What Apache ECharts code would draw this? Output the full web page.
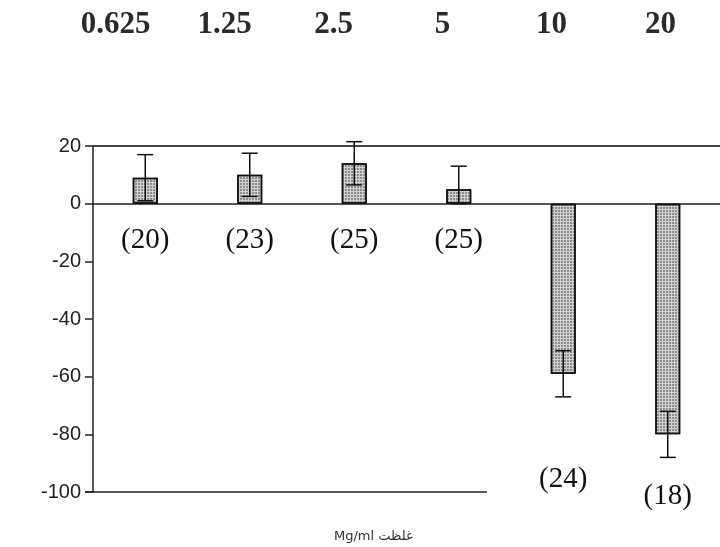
<!DOCTYPE html>
<html>
<head>
<meta charset="utf-8">
<script src="https://cdn.jsdelivr.net/npm/echarts@6/dist/echarts.min.js"></script>
<style>html,body{margin:0;padding:0;background:#fff}#c{width:720px;height:547px}</style>
</head>
<body>
<div id="c"></div>
<script>
const categories = ['0.625', '1.25', '2.5', '5', '10', '20'];
const means = [9, 10, 14, 5, -59, -80];
const sds = [8, 7.5, 7.5, 8, 8, 8];
const nLabels = ['(20)', '(23)', '(25)', '(25)', '(24)', '(18)'];
const axisTitle = 'Mg/ml غلظت';

// layout constants (pixel offsets of the n labels below their anchor)
const nLabelOffset = [37, 37, 37, 37, 83, 39];

const chart = echarts.init(document.getElementById('c'));
const option = {
  animation: false,
  backgroundColor: '#fff',
  title: {
    text: axisTitle,
    left: 329, top: 525,
    textStyle: { fontFamily: 'DejaVu Sans', fontSize: 13, fontWeight: 'normal', color: '#333' }
  },
  grid: [
    { left: 93, right: -10, top: 146, bottom: 55 },
    { left: 61, right: 5, top: 146, bottom: 55 }
  ],
  xAxis: [{
    type: 'category',
    gridIndex: 0,
    data: categories,
    axisLine: { onZero: true, lineStyle: { color: '#222', width: 1.5 } },
    axisTick: { show: false },
    axisLabel: { show: false },
    splitLine: { show: false }
  }, {
    type: 'category',
    gridIndex: 1,
    data: categories,
    position: 'top',
    offset: 98,
    axisLine: { show: false },
    axisTick: { show: false },
    axisLabel: {
      fontFamily: 'Liberation Serif', fontSize: 31, fontWeight: 'bold', color: '#2a2a2a'
    }
  }],
  yAxis: [{
    type: 'value',
    gridIndex: 0,
    min: -100, max: 20, interval: 20,
    axisLine: { show: true, lineStyle: { color: '#222', width: 1.5 } },
    axisTick: { show: true, length: 8, lineStyle: { color: '#222', width: 1.5 } },
    axisLabel: { fontFamily: 'Liberation Sans', fontSize: 20, color: '#222', margin: 12 },
    splitLine: { show: false }
  }, {
    type: 'value',
    gridIndex: 1,
    min: -100, max: 20, interval: 20,
    show: false
  }],
  series: [{
    type: 'bar',
    data: means,
    barWidth: 25,
    itemStyle: {
      color: '#cfcfcf',
      borderColor: '#111',
      borderWidth: 1.5,
      decal: {
        symbol: 'rect', symbolSize: 1,
        dashArrayX: [2, 1], dashArrayY: [2, 1],
        color: 'rgba(90,90,90,0.55)'
      }
    },
    markLine: {
      silent: true, symbol: 'none', label: { show: false },
      lineStyle: { color: '#444', width: 2, type: 'solid' },
      data: [{ yAxis: 20 }]
    }
  }, {
    type: 'custom',
    data: categories.map((c, i) => [i, means[i], sds[i]]),
    encode: { x: 0, y: [1, 2] },
    z: 5,
    renderItem: function (params, api) {
      const i = api.value(0), m = api.value(1), s = api.value(2);
      const outer = m + (m >= 0 ? s : -s);
      let inner = m - (m >= 0 ? s : -s);
      if (m >= 0) inner = Math.max(0, inner);
      const a = api.coord([i, outer]);
      const b = api.coord([i, inner]);
      const hw = 8;
      const st = { stroke: '#111', lineWidth: 1.5 };
      return {
        type: 'group',
        children: [
          { type: 'line', shape: { x1: a[0], y1: a[1], x2: b[0], y2: b[1] }, style: st },
          { type: 'line', shape: { x1: a[0] - hw, y1: a[1], x2: a[0] + hw, y2: a[1] }, style: st },
          { type: 'line', shape: { x1: b[0] - hw, y1: b[1], x2: b[0] + hw, y2: b[1] }, style: st }
        ]
      };
    }
  }, {
    type: 'custom',
    data: categories.map((c, i) => [i, means[i] >= 0 ? 0 : means[i] - sds[i]]),
    encode: { x: 0, y: 1 },
    z: 6,
    renderItem: function (params, api) {
      const i = params.dataIndex;
      const p = api.coord([api.value(0), api.value(1)]);
      return {
        type: 'text',
        style: {
          text: nLabels[i], x: p[0], y: p[1] + nLabelOffset[i],
          textAlign: 'center', textVerticalAlign: 'middle',
          font: '29px "Liberation Serif"', fill: '#111'
        }
      };
    }
  }],
  graphic: [{
    type: 'line',
    shape: { x1: 85, y1: 492, x2: 487, y2: 492 },
    style: { stroke: '#222', lineWidth: 1.5 }
  }]
};
chart.setOption(option);
</script>
</body>
</html>
